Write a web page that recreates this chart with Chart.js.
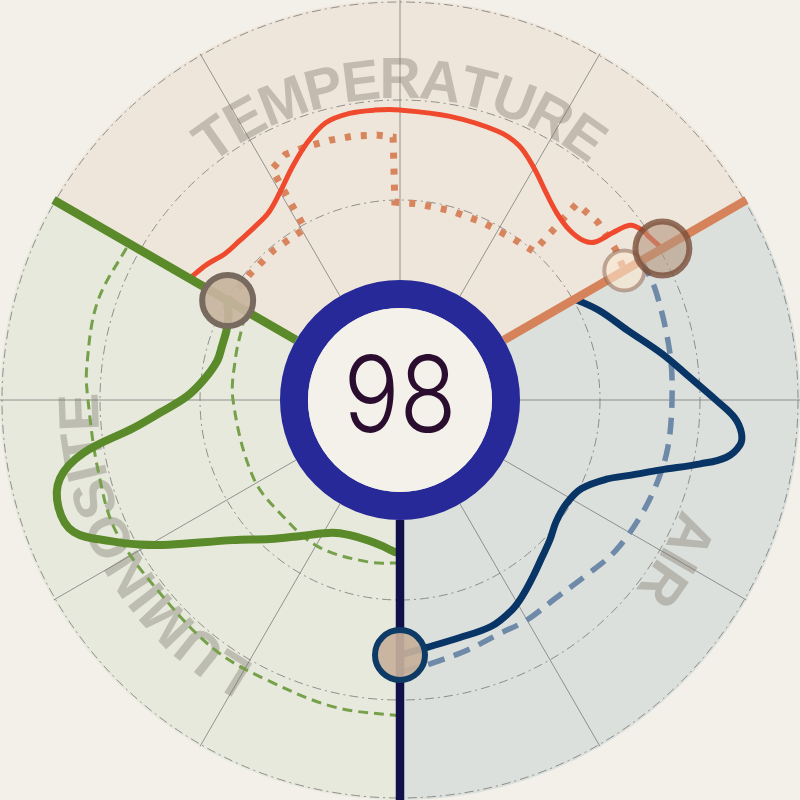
<!DOCTYPE html>
<html><head><meta charset="utf-8">
<script src="https://cdn.jsdelivr.net/npm/chart.js@4.4.1/dist/chart.umd.min.js"></script>
<style>html,body{margin:0;padding:0;background:#f2f0e8;}#wrap{width:800px;height:800px;}</style>
</head><body><div id="wrap"><canvas id="c" width="800" height="800"></canvas></div>
<script>
// ---- data (angles in degrees clockwise from top, values on a 0-100 radial scale) ----
const sectorNames = ['TEMPERATURE', 'AIR', 'LUMINOSITE'];
const sectorStart = [-60, 60, 180];
const sectorEnd = [60, 180, 300];
const centerValue = 98;
const gridRings = [25, 50, 75, 100];
const spokeAngles = [0, 30, 60, 90, 120, 150, 180, 210, 240, 270, 300, 330];

const tempAngles = [-60,-55,-50,-45,-40,-35,-30,-25,-20,-15,-10,-5,0,10,20,25,30,35,40,45,49,51,51.8,52.8,55,57,60];
const tempValues = [60.75,59,57,56.5,56.5,57.25,60,64,68.25,71.75,72.75,72.75,72.5,72,71.5,70.25,67,63.5,61,60,60.75,62.75,67.5,72.25,74,74.5,75.75];

const tempRefAngles = [-60,-50,-40,-29,-29,-25,-20,-15,-10,-5,-1.5,-1.5,5,15,25,35,42,42,48,55,60];
const tempRefValues = [49.5,49,49,49,66,67.75,67.5,67.25,67,66.5,65.75,49.5,49.25,49,49,49.25,50,66,66.5,65.75,64.75];

const airAngles = [60,66,73,80,85,90,93,95.5,97.5,100,102,105,108,111,116,122,128,133,138,143,148,152,158,166,174,180];
const airValues = [50.5,54.75,59.5,66.5,72,79,83.75,85.75,85.75,82.75,76.75,67.5,60.75,55.25,50.5,49,49.5,51.25,53,55.25,57.75,59.5,61,61.25,62.25,63.75];

const airRefAngles = [60,67,80,90,100,108,116,125,133,142,150,157,165,173,180];
const airRefValues = [69.75,69.5,68.5,68,68,67.5,66.75,65.75,64,63,63.5,63.5,64.75,66.25,68];

const lumAngles = [180,182,187,193,200,207,216,223,230,238,241,244,248,252.5,257,260.5,264,267,271,276,282,287,292,296,300];
const lumValues = [38.25,38,36.75,36,36,37.25,42,47.5,54.5,68.25,74.5,80.5,88,89.5,87.25,80.25,67,60,53.25,49.25,46.75,46.5,46.75,47.75,49.75];

const lumHighAngles = [180,192,205,216,229,245,257,270,276,288,300];
const lumHighValues = [79,78.5,77.5,77.75,77,78.25,77.5,78,78.75,79.5,78.25];

const lumLowAngles = [180,191,209,225,242,270,285,295,300];
const lumLowValues = [40.75,41.25,42,41.25,41.5,41.75,42.5,43.5,44.5];

// ---- helpers ----
function polar(angles, values) {
  return angles.map((a, i) => {
    const t = a * Math.PI / 180;
    return { x: values[i] * Math.sin(t), y: values[i] * Math.cos(t) };
  });
}
const rad = d => d * Math.PI / 180;

const sectorFill = ['#efe6db', '#dbe0dc', '#e7e9dd'];
const sectorLine = ['#d6825a', '#12104a', '#5a8a2a'];

const backdrop = {
  id: 'backdrop',
  beforeDatasetsDraw(chart) {
    const ctx = chart.ctx, xs = chart.scales.x, ys = chart.scales.y;
    const cx = xs.getPixelForValue(0), cy = ys.getPixelForValue(0);
    const pr = v => xs.getPixelForValue(v) - cx;
    const R = pr(100);
    ctx.save();
    sectorStart.forEach((s, i) => {
      ctx.beginPath();
      ctx.moveTo(cx, cy);
      ctx.arc(cx, cy, R, rad(s - 90), rad(sectorEnd[i] - 90));
      ctx.closePath();
      ctx.fillStyle = sectorFill[i];
      ctx.fill();
    });
    ctx.strokeStyle = 'rgba(110,110,110,0.7)';
    ctx.lineWidth = 1;
    spokeAngles.forEach(a => {
      const t = rad(a);
      ctx.beginPath();
      ctx.moveTo(cx + pr(30) * Math.sin(t), cy - pr(30) * Math.cos(t));
      ctx.lineTo(cx + pr(100) * Math.sin(t), cy - pr(100) * Math.cos(t));
      ctx.stroke();
    });
    ctx.setLineDash([9, 4, 2, 4]);
    ctx.strokeStyle = 'rgba(120,120,120,0.8)';
    gridRings.forEach(g => {
      ctx.beginPath();
      ctx.arc(cx, cy, pr(g) - (g === 100 ? 2 : 0), 0, Math.PI * 2);
      ctx.stroke();
    });
    ctx.setLineDash([]);
    const rBase = pr(75.5);
    ctx.font = 'bold 57px "Liberation Sans", Arial, sans-serif';
    ctx.fillStyle = 'rgba(120,110,100,0.36)';
    ctx.textAlign = 'center';
    ctx.textBaseline = 'alphabetic';
    const rMid = rBase + 21;
    sectorNames.forEach((name, i) => {
      const mid = (sectorStart[i] + sectorEnd[i]) / 2;
      const chars = name.split('');
      const ws = chars.map(c => ctx.measureText(c).width);
      const total = ws.reduce((a, b) => a + b, 0);
      let acc = rad(mid) - total / rMid / 2;
      chars.forEach((c, k) => {
        const a = acc + ws[k] / 2 / rMid;
        ctx.save();
        ctx.translate(cx + rBase * Math.sin(a), cy - rBase * Math.cos(a));
        ctx.rotate(a);
        ctx.fillText(c, 0, 0);
        ctx.restore();
        acc += ws[k] / rMid;
      });
    });
    ctx.restore();
  },
  afterDatasetsDraw(chart) {
    const ctx = chart.ctx, xs = chart.scales.x, ys = chart.scales.y;
    const cx = xs.getPixelForValue(0), cy = ys.getPixelForValue(0);
    const pr = v => xs.getPixelForValue(v) - cx;
    ctx.save();
    ctx.beginPath();
    ctx.arc(cx, cy, pr(26.5), 0, Math.PI * 2);
    ctx.strokeStyle = '#262997';
    ctx.lineWidth = pr(7);
    ctx.stroke();
    ctx.beginPath();
    ctx.arc(cx, cy, pr(23), 0, Math.PI * 2);
    ctx.fillStyle = '#f3f1e9';
    ctx.fill();
    ctx.fillStyle = '#2b0d30';
    ctx.font = '300 106px Inter, Lato, sans-serif';
    ctx.textAlign = 'center';
    ctx.textBaseline = 'alphabetic';
    ctx.translate(cx, cy + 32);
    ctx.scale(0.88, 1);
    ctx.fillText(String(centerValue), 0, 0);
    ctx.restore();
  }
};

const lineDs = (data, color, width, extra) => Object.assign({
  data, showLine: true, borderColor: color, borderWidth: width,
  pointRadius: 0, pointHoverRadius: 0, fill: false, tension: 0.35, order: 3
}, extra || {});

const markerDs = (data, fillC, strokeC, radius, bw) => ({
  data, showLine: false, pointRadius: radius, pointHoverRadius: radius,
  pointBackgroundColor: fillC, pointBorderColor: strokeC, pointBorderWidth: bw, order: 0
});

const datasets = [
  markerDs(polar([sectorEnd[0]], [tempValues[tempValues.length - 1]]), 'rgba(180,150,125,0.6)', 'rgba(120,75,55,0.78)', 27, 6),
  markerDs(polar([sectorEnd[0]], [tempRefValues[tempRefValues.length - 1]]), 'rgba(250,232,208,0.6)', 'rgba(150,105,85,0.55)', 20, 4),
  markerDs(polar([sectorEnd[1]], [airValues[airValues.length - 1]]), 'rgba(200,176,154,0.92)', '#0e3a66', 25, 6),
  markerDs(polar([sectorEnd[2]], [lumValues[lumValues.length - 1]]), 'rgba(200,180,158,0.92)', '#786a5e', 25.5, 6),
];
sectorEnd.forEach((a, i) => {
  datasets.push(lineDs(polar([a, a], [30, 100]), sectorLine[i], 8.5, { tension: 0, order: 1 }));
});
datasets.push(
  lineDs(polar(tempAngles, tempValues), '#ef4a2d', 5),
  lineDs(polar(tempRefAngles, tempRefValues), '#d8845c', 7, { tension: 0, borderDash: [6, 10], order: 4 }),
  lineDs(polar(airAngles, airValues), '#083565', 7),
  lineDs(polar(airRefAngles, airRefValues), '#6e8aa8', 5.5, { borderDash: [17, 10], order: 4 }),
  lineDs(polar(lumAngles, lumValues), '#5b8a2a', 8),
  lineDs(polar(lumHighAngles, lumHighValues), '#76a049', 3, { borderDash: [10, 6], order: 4 }),
  lineDs(polar(lumLowAngles, lumLowValues), '#76a049', 3, { borderDash: [10, 6], order: 4 })
);

new Chart(document.getElementById('c'), {
  type: 'scatter',
  data: { datasets },
  options: {
    responsive: false, animation: false, events: [],
    layout: { padding: 0, autoPadding: false },
    plugins: { legend: { display: false }, tooltip: { enabled: false } },
    scales: {
      x: { type: 'linear', min: -100, max: 100, display: false },
      y: { type: 'linear', min: -100, max: 100, display: false }
    }
  },
  plugins: [backdrop, {
    id: 'bg',
    beforeDraw(chart) {
      const c = chart.ctx; c.save(); c.fillStyle = '#f2f0e8';
      c.fillRect(0, 0, chart.width, chart.height); c.restore();
    }
  }]
});
</script></body></html>
